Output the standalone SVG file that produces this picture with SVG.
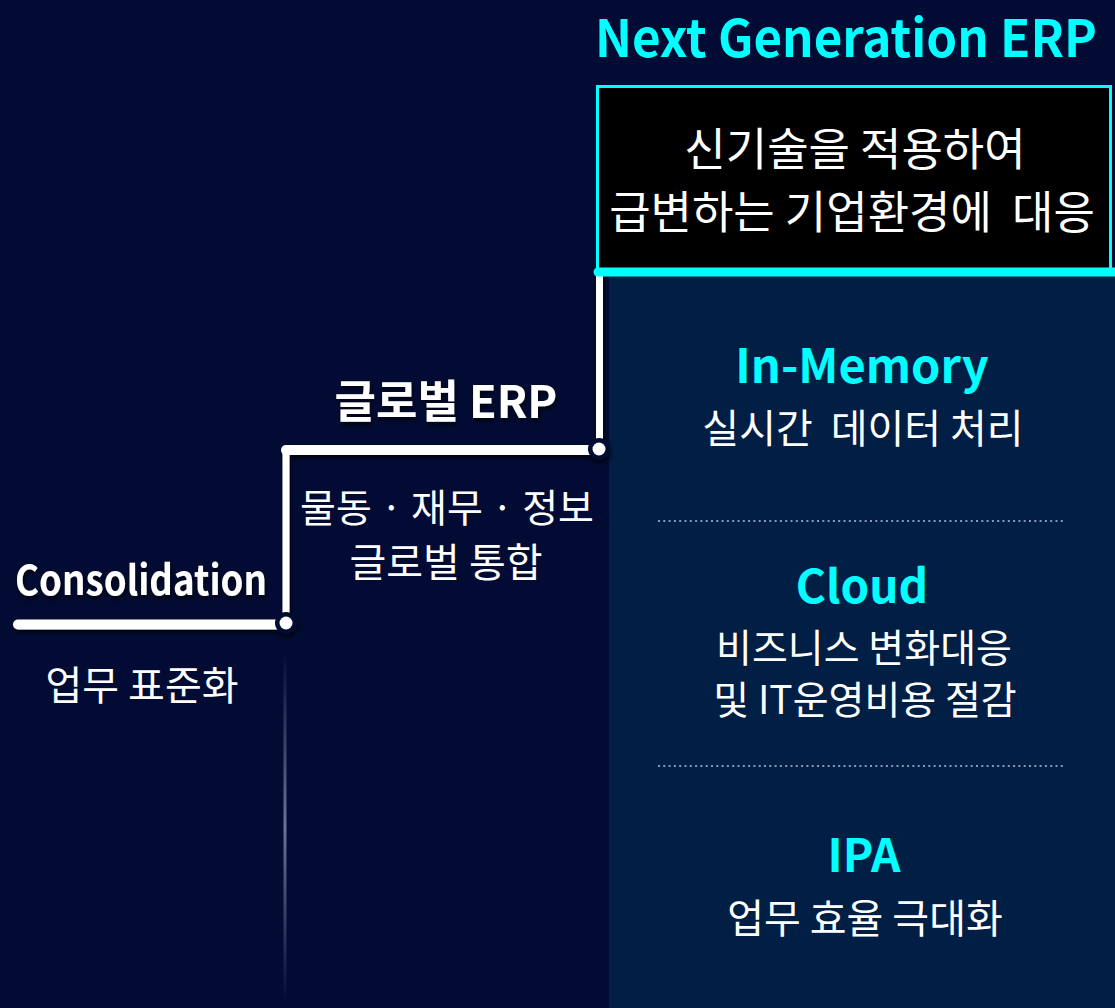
<svg xmlns="http://www.w3.org/2000/svg" width="1115" height="1008" viewBox="0 0 1115 1008">
  <defs>
    <style>
      text { font-family: "Noto Sans CJK KR", "Noto Sans", sans-serif; text-anchor: middle; white-space: pre; }
      .w { fill: #ffffff; }
      .c { fill: #00ffff; font-weight: 700; }
      .b { font-weight: 700; }
      .step { stroke: #ffffff; fill: none; stroke-linecap: round; stroke-linejoin: round; }
      .dot-ring { fill: #020b33; }
      .dot { fill: #ffffff; }
      .dots { stroke: #8a98b4; stroke-width: 2.2; stroke-dasharray: 2 3.3; stroke-linecap: butt; }
    </style>
    <filter id="sh" x="-20%" y="-50%" width="140%" height="200%">
      <feDropShadow dx="1" dy="3" stdDeviation="2.5" flood-color="#000000" flood-opacity="0.7"/>
    </filter>
    <linearGradient id="fade" x1="0" y1="0" x2="0" y2="1">
      <stop offset="0" stop-color="#6a7299" stop-opacity="0"/>
      <stop offset="0.5" stop-color="#6a7299" stop-opacity="1"/>
      <stop offset="1" stop-color="#6a7299" stop-opacity="0"/>
    </linearGradient>
  </defs>

  <rect x="0" y="0" width="1115" height="1008" fill="#020b33"/>
  <rect x="609" y="270" width="506" height="738" fill="#011e45"/>
  <rect x="283.5" y="650" width="3" height="352" fill="url(#fade)"/>

  <g id="connectors" filter="url(#sh)">
    <path class="step" d="M 18 624.5 L 282 624.5" stroke-width="10"/>
    <path class="step" d="M 286 623 L 286 450" stroke-width="7"/>
    <path class="step" d="M 286 450 L 596 450" stroke-width="10"/>
    <path class="step" d="M 599.5 449 L 599.5 272" stroke-width="7"/>
    <circle class="dot-ring" cx="286" cy="623" r="11"/>
    <circle class="dot" cx="286" cy="623" r="6.5"/>
    <circle class="dot-ring" cx="599" cy="449" r="11"/>
    <circle class="dot" cx="599" cy="449" r="6.5"/>
  </g>

  <g id="title">
    <text class="c" x="846" y="57" font-size="51" textLength="502" lengthAdjust="spacingAndGlyphs">Next Generation ERP</text>
  </g>

  <g id="next-gen-box">
    <rect x="597.5" y="86.5" width="513" height="184" fill="#000000" stroke="#00ffff" stroke-width="3"/>
    <line x1="598" y1="272" x2="1115" y2="272" stroke="#00ffff" stroke-width="9" stroke-linecap="round"/>
    <text class="w" x="855" y="166" font-size="45" xml:space="preserve">신기술을 적용하여</text>
    <text class="w" x="852" y="229" font-size="45" xml:space="preserve">급변하는 기업환경에  대응</text>
  </g>

  <g id="in-memory">
    <text class="c" x="862" y="383" font-size="47">In-Memory</text>
    <text class="w" x="863" y="443" font-size="40" xml:space="preserve">실시간  데이터 처리</text>
  </g>
  <line class="dots" x1="658" y1="521" x2="1066" y2="521"/>

  <g id="cloud">
    <text class="c" x="862" y="603" font-size="46">Cloud</text>
    <text class="w" x="864" y="662" font-size="39">비즈니스 변화대응</text>
    <text class="w" x="865" y="714" font-size="39">및 IT운영비용 절감</text>
  </g>
  <line class="dots" x1="658" y1="766" x2="1066" y2="766"/>

  <g id="ipa">
    <text class="c" x="864" y="872" font-size="46">IPA</text>
    <text class="w" x="865" y="933" font-size="40">업무 효율 극대화</text>
  </g>

  <g id="global-erp">
    <text class="w b" x="446" y="418" font-size="45" filter="url(#sh)">글로벌 ERP</text>
    <text class="w" x="447" y="522" font-size="39">물동 · 재무 · 정보</text>
    <text class="w" x="446" y="577" font-size="40">글로벌 통합</text>
  </g>

  <g id="consolidation">
    <text class="w b" x="141" y="595" font-size="41" textLength="252" lengthAdjust="spacingAndGlyphs" filter="url(#sh)">Consolidation</text>
    <text class="w" x="142" y="700" font-size="40">업무 표준화</text>
  </g>
</svg>
